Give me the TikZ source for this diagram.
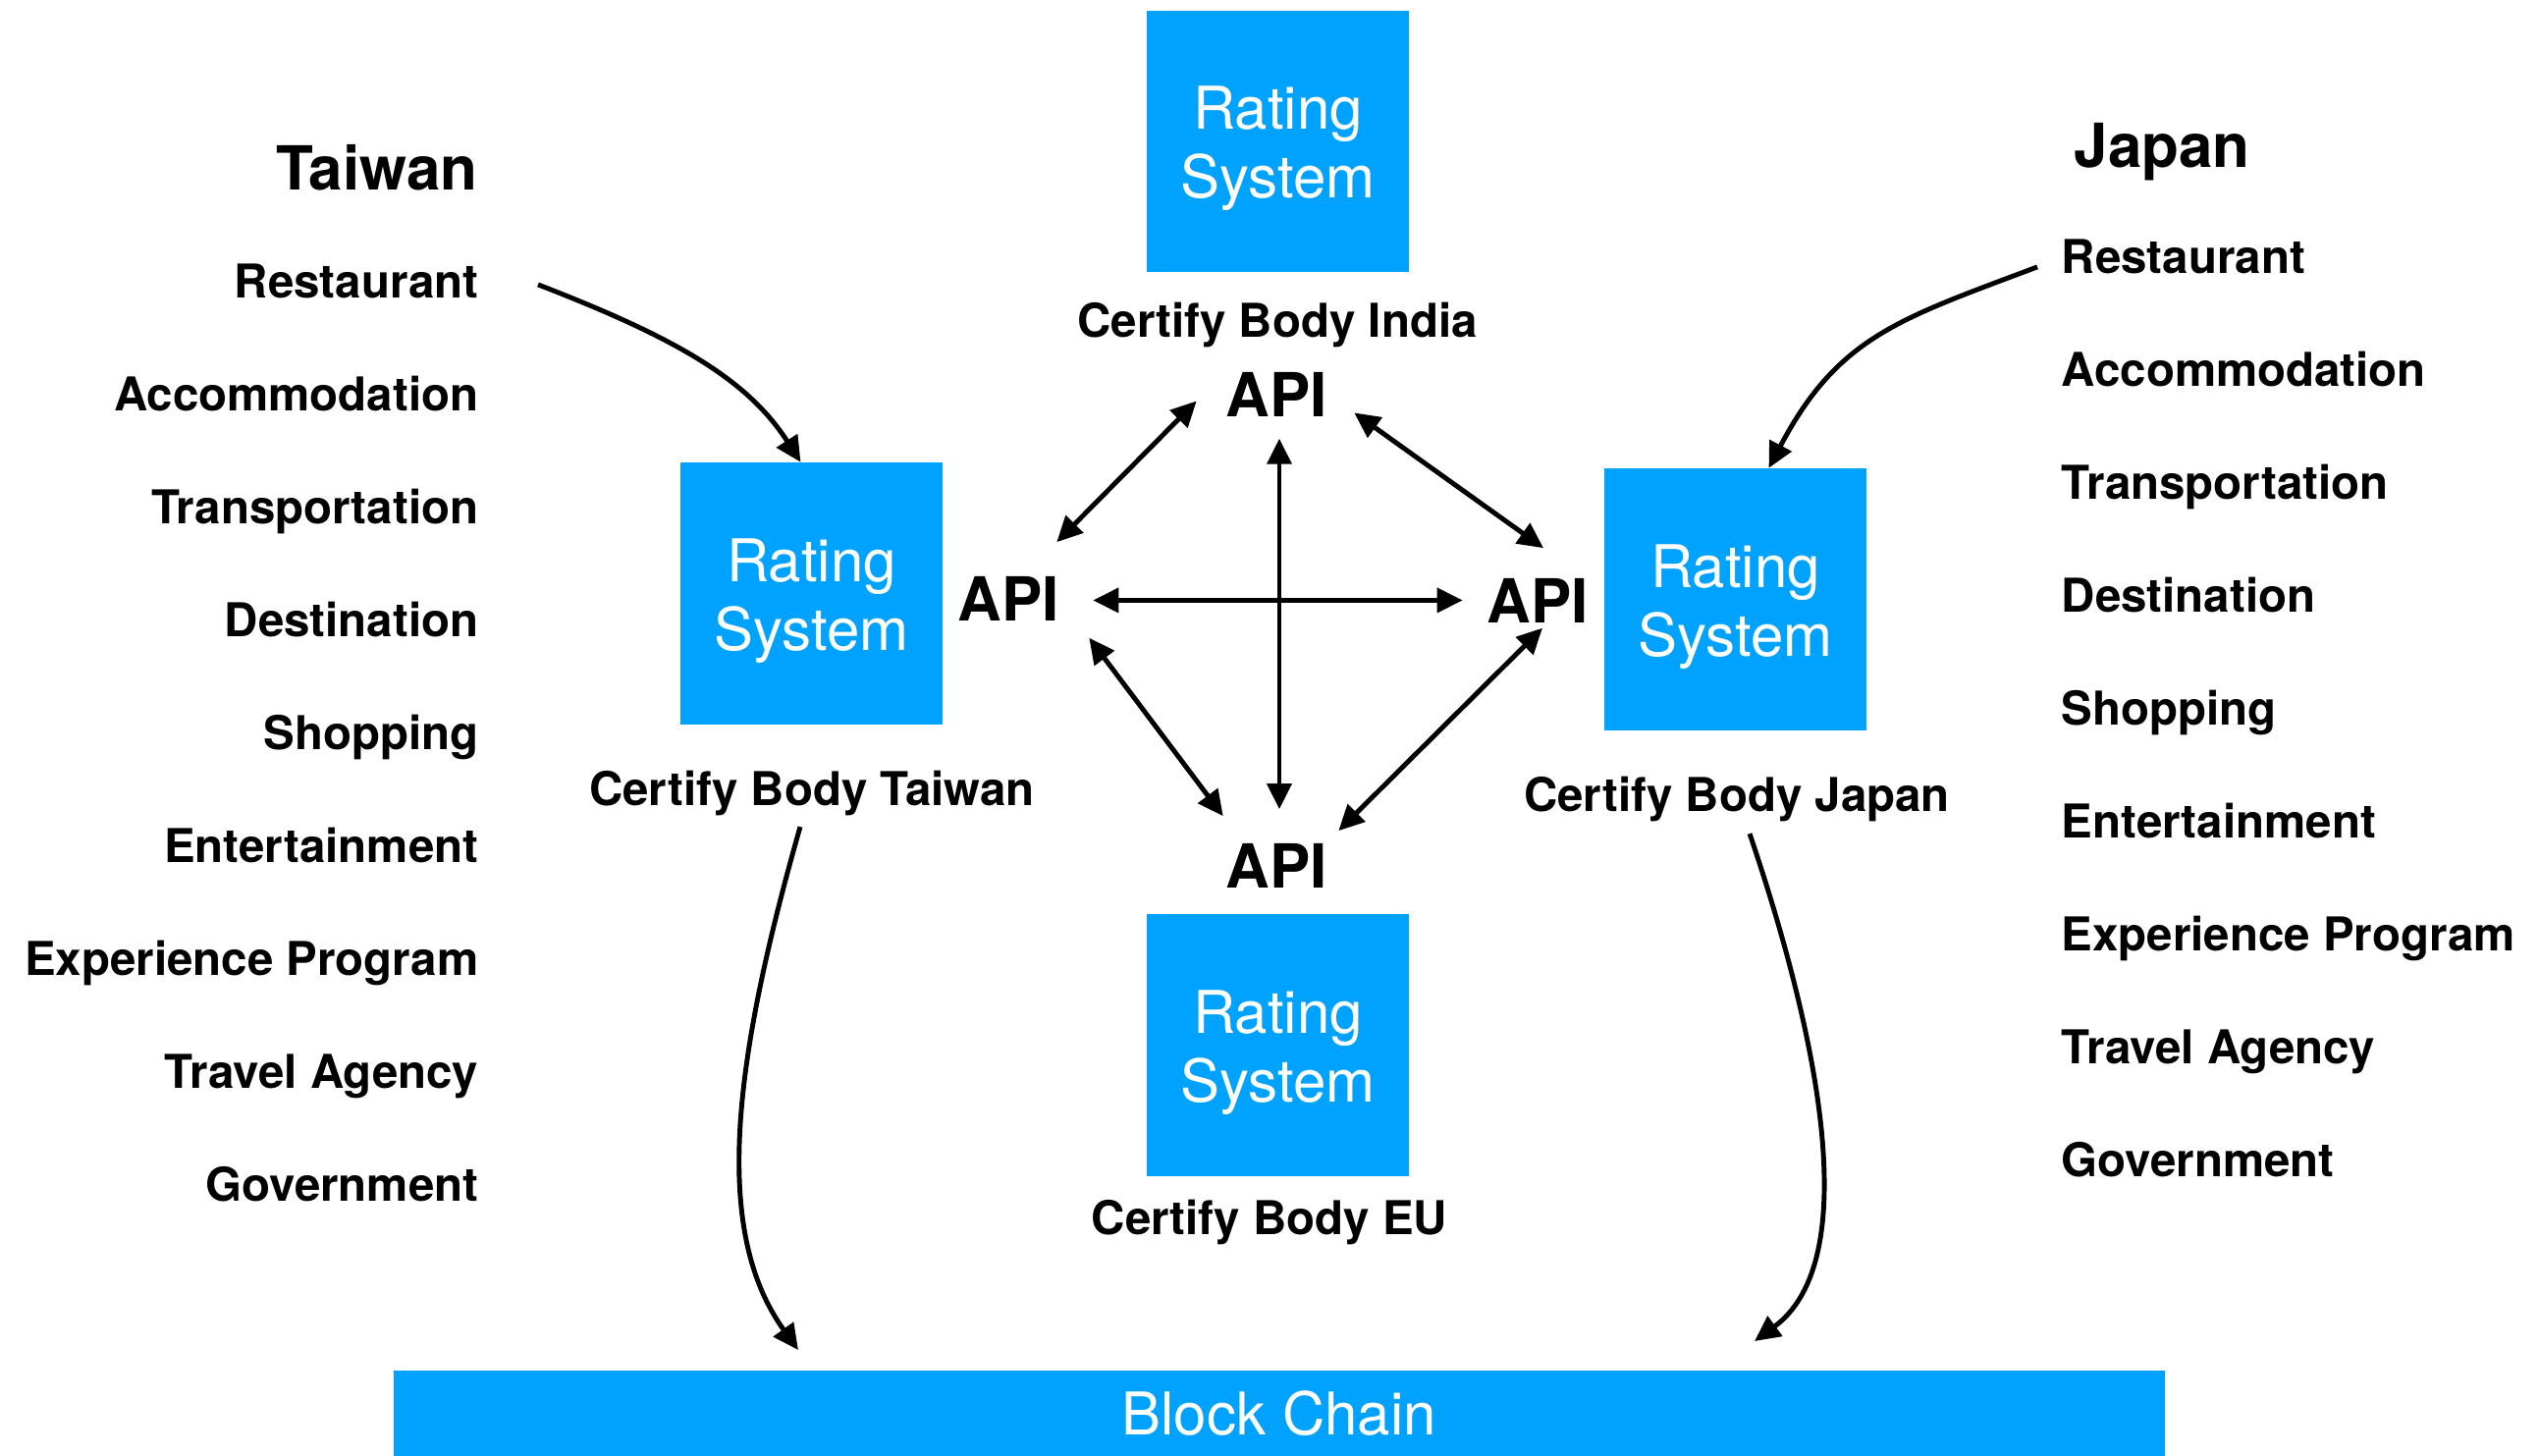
\documentclass[tikz,border=0pt]{standalone}
\usepackage{fontspec}
\setmainfont{TeX Gyre Heros}
\usetikzlibrary{arrows.meta,calc}
\definecolor{boxblue}{HTML}{00A2FF}
\begin{document}
\begin{tikzpicture}[x=0.01cm,y=-0.01cm,
  ratebox/.style={fill=boxblue, draw=none, minimum width=2.67cm, minimum height=2.66cm, inner sep=0pt},
  ratetext/.style={text=white, align=center, inner sep=0pt, font=\fontsize{17.07}{19.9}\selectfont},
  bigbold/.style={inner sep=0pt, font=\fontsize{17.6}{20}\selectfont\bfseries},
  item/.style={inner sep=0pt, font=\fontsize{13.5}{16}\selectfont\bfseries},
  link/.style={line width=1.4pt, {Triangle[length=7.4pt,width=7pt]}-{Triangle[length=7.4pt,width=7pt]}},
  flow/.style={line width=1.4pt, -{Triangle[length=7.4pt,width=7pt]}}
]
\useasboundingbox (0,0) rectangle (2586,1482);

% rating system boxes
\node[ratebox] (india) at (1301.5,144) {};
\node[ratebox] (twbox) at (826.5,604.5) {};
\node[ratebox] (jpbox) at (1767.5,610.5) {};
\node[ratebox] (eubox) at (1301.5,1064.5) {};
\node[ratetext] (indiaT) at ($(india.center)+(0,7.5)$) {Rating\\System};
\node[ratetext] (twT) at ($(twbox.center)+(0,7.5)$) {Rating\\System};
\node[ratetext] (jpT) at ($(jpbox.center)+(0,7.5)$) {Rating\\System};
\node[ratetext] (euT) at ($(eubox.center)+(0,7.5)$) {Rating\\System};

% certify labels
\node[item, anchor=base] (cbin) at (1301,343) {Certify Body India};
\node[item, anchor=base] (cbtw) at (827,820) {Certify Body Taiwan};
\node[item, anchor=base] (cbjp) at (1769,826) {Certify Body Japan};
\node[item, anchor=base] (cbeu) at (1293,1257) {Certify Body EU};

% block chain
\node[fill=boxblue, minimum width=18.03cm, minimum height=0.87cm, inner sep=0pt,
      text=white, font=\fontsize{17.07}{20}\selectfont, anchor=north west] (chain) at (400,1395) {Block Chain};

% titles
\node[bigbold, anchor=base east] (taiwan) at (487,193) {Taiwan};
\node[bigbold, anchor=base west] (japan) at (2112,170) {Japan};

% lists
\foreach \t [count=\i from 0] in {Restaurant,Accommodation,Transportation,Destination,Shopping,Entertainment,Experience Program,Travel Agency,Government}{
  \node[item, anchor=base east] (tw\i) at (488,{303+115*\i}) {\t};
  \node[item, anchor=base west] (jp\i) at (2099,{278+115*\i}) {\t};
}

% API labels
\node[bigbold, anchor=base] (apiT) at (1300,424) {API};
\node[bigbold, anchor=base] (apiL) at (1027,632) {API};
\node[bigbold, anchor=base] (apiR) at (1566,634) {API};
\node[bigbold, anchor=base] (apiB) at (1300,904) {API};

% API links
\draw[link] ($(apiT.west)+(-29,7)$) -- ($(apiL.north east)+(-3,-34)$);
\draw[link] ($(apiT.south)+(3,22)$) -- ($(apiB.north)+(3,-34)$);
\draw[link] ($(apiL.east)+(34,2)$) -- ($(apiR.west)+(-24,0)$);
\draw[link] ($(apiT.east)+(27,19)$) -- ($(apiR.north)+(6,-30)$);
\draw[link] ($(apiL.south east)+(30,17)$) -- ($(apiB.north west)+(-2,-27)$);
\draw[link] ($(apiR.south)+(5,5)$) -- ($(apiB.north east)+(11,-12)$);

% curved flows
\draw[flow] ($(tw0.east)+(60,4)$) .. controls (688,344) and (761,386) .. ($(twbox.north)+(-11,0)$);
\draw[flow] ($(jp0.west)+(-24,11)$) .. controls (1934,325) and (1872,343) .. ($(jpbox.north)+(34,0)$);
\draw[flow] ($(cbtw.south)+(-12,11)$) .. controls (747,1081) and (725,1253) .. ($(chain.north west)+(413,-20)$);
\draw[flow] ($(cbjp.south)+(13,12)$) .. controls (1862,1085) and (1892,1289) .. ($(chain.north west)+(1387,-29)$);
\end{tikzpicture}
\end{document}
